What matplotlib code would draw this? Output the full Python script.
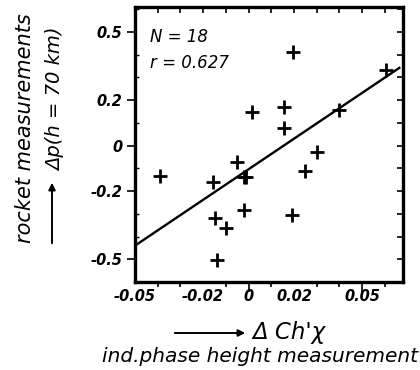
import matplotlib
matplotlib.use("Agg")
import matplotlib.pyplot as plt
import numpy as np

# data
x_vals = [-0.0389, -0.0158, -0.0146, -0.0099, -0.0138, -0.0053, -0.0018, -0.0012,
          -0.0021, 0.0016, 0.0156, 0.0154, 0.0196, 0.0193, 0.0248, 0.0301, 0.0400, 0.0606]
y_vals = [-0.135, -0.161, -0.317, -0.363, -0.503, -0.073, -0.139, -0.139,
          -0.281, 0.146, 0.172, 0.078, 0.411, -0.303, -0.110, -0.028, 0.158, 0.333]
line_x = [-0.050, 0.0668]
line_y = [-0.440, 0.345]
ytick_vals = [0.5, 0.2, 0.0, -0.2, -0.5]
ytick_labels = ["0.5", "0.2", "0", "-0.2", "-0.5"]
xtick_vals = [-0.05, -0.02, 0.0, 0.02, 0.05]
xtick_labels = ["-0.05", "-0.02", "0", "0.02", "0.05"]
long_xticks = [0.0, 0.05]

plt.rcParams['font.family'] = ['DejaVu Sans']
plt.rcParams['font.style'] = 'italic'

fig = plt.figure(figsize=(4.2, 3.7), dpi=100)
ax = fig.add_axes([135/420, 1-282/370, (403-135)/420, (282-7)/370])

ax.plot(line_x, line_y, color='black', lw=1.7, solid_capstyle='butt')
ax.plot(x_vals, y_vals, linestyle='none', marker='+', ms=9.5, mew=2.0, color='black')

ax.set_xlim(-0.05, 0.068)
ax.set_ylim(-0.60, 0.61)

for s in ax.spines.values():
    s.set_linewidth(2.4)

tick_font = dict(fontsize=10.5, fontstyle='italic', fontweight='bold')
ax.set_yticks(ytick_vals)
ax.set_yticklabels(ytick_labels, **tick_font)
ax.set_yticks(np.arange(-0.6, 0.61, 0.1), minor=True)
ax.set_xticks(xtick_vals)
ax.set_xticklabels(xtick_labels, **tick_font)
ax.set_xticks(np.arange(-0.05, 0.0681, 0.01), minor=True)

ax.tick_params(axis='y', which='major', direction='out', length=6, width=1.2, pad=3)
ax.tick_params(axis='y', which='minor', direction='in', length=3, width=1.0)
ax.tick_params(axis='x', which='major', direction='out', length=0, pad=5)
ax.tick_params(axis='x', which='minor', direction='out', length=3.5, width=1.2)

# longer bottom ticks
sx = ax.secondary_xaxis('bottom')
sx.set_xticks(long_xticks)
sx.tick_params(direction='out', length=7, width=1.2, labelbottom=False)
sx.spines['bottom'].set_visible(False)

# inward ticks on top and right
tx = ax.secondary_xaxis('top')
tx.set_xticks(np.arange(-0.05, 0.0681, 0.01))
tx.tick_params(direction='in', length=4, width=1.2, labeltop=False)
ry = ax.secondary_yaxis('right')
ry.set_yticks(np.arange(-0.6, 0.61, 0.1))
ry.tick_params(direction='in', length=4, width=1.2, labelright=False)

ax.text(0.056, 0.891, "N = 18", transform=ax.transAxes, fontsize=12, fontstyle='italic',
        va='center', ha='left')
ax.text(0.056, 0.796, "r = 0.627", transform=ax.transAxes, fontsize=12, fontstyle='italic',
        va='center', ha='left')

# y label
fig.text(25/420, 1-128/370, "rocket measurements", rotation=90, fontsize=15,
         fontstyle='italic', ha='center', va='center')
fig.text(56/420, 1-99/370, "Δp(h = 70 km)", rotation=90, fontsize=14,
         fontstyle='italic', ha='center', va='center')
fig.add_artist(matplotlib.patches.FancyArrowPatch((52/420, 1-246/370), (52/420, 1-180/370),
               transform=fig.transFigure, arrowstyle='-|>', mutation_scale=10, lw=1.4, color='black'))

# x label
fig.add_artist(matplotlib.patches.FancyArrowPatch((172/420, 1-333/370), (248/420, 1-333/370),
               transform=fig.transFigure, arrowstyle='-|>', mutation_scale=10, lw=1.4, color='black'))
fig.text(252/420, 1-333/370, "Δ Ch'χ", fontsize=16.5, fontstyle='italic', ha='left', va='center')
fig.text(260/420, 1-357/370, "ind.phase height measurement", fontsize=14.5,
         fontstyle='italic', ha='center', va='center')

fig.savefig("out.png", dpi=100)
